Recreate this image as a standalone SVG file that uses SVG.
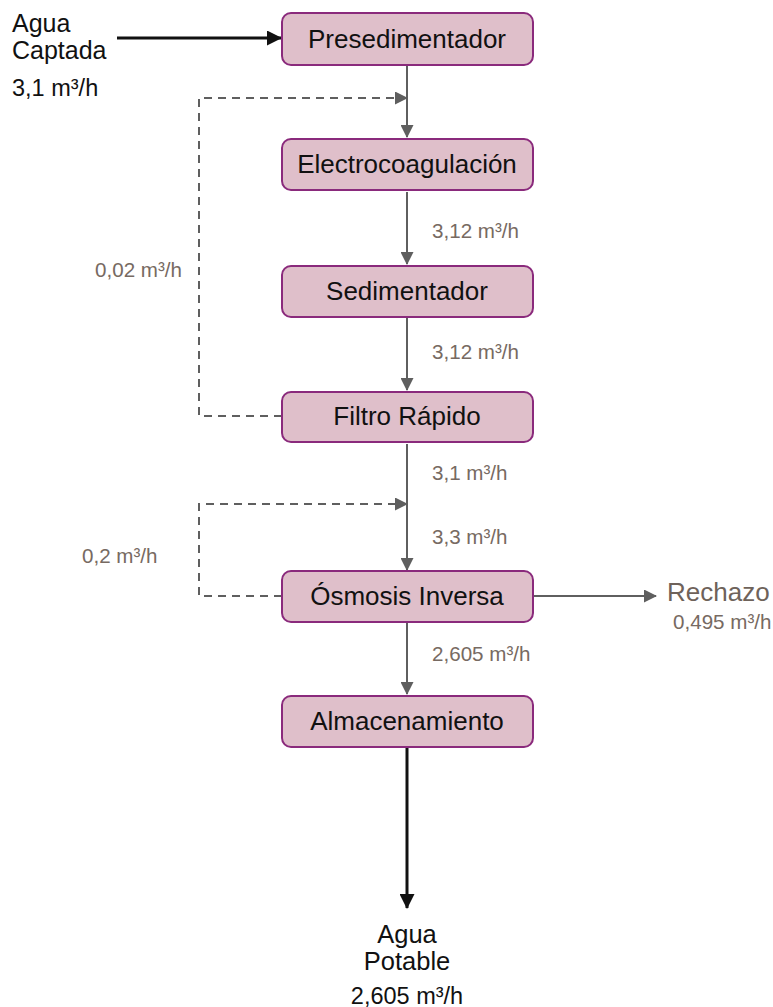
<svg xmlns="http://www.w3.org/2000/svg" width="773" height="1007" viewBox="0 0 773 1007">
<style>
.box{fill:#dfbfca;stroke:#8a2a7c;stroke-width:2}
.bt{font-family:"Liberation Sans",Arial,sans-serif;font-size:26px;fill:#111;text-anchor:middle}
.lbl{font-family:"Liberation Sans",Arial,sans-serif;font-size:20.6px;fill:#776a62}
.blk{font-family:"Liberation Sans",Arial,sans-serif;font-size:25px;fill:#111}
.g{stroke:#5f5f5f;stroke-width:2;fill:none}
.d{stroke:#5f5f5f;stroke-width:2;fill:none;stroke-dasharray:8 6}
.k{stroke:#111;stroke-width:3;fill:none}
</style>
<defs>
<marker id="ak" markerWidth="15" markerHeight="15" refX="14" refY="7.5" orient="auto" markerUnits="userSpaceOnUse" viewBox="0 0 15 15"><path d="M0,0 L15,7.5 L0,15 z" fill="#111"/></marker>
<marker id="agb" markerWidth="13" markerHeight="13" refX="12" refY="6.5" orient="auto" markerUnits="userSpaceOnUse" viewBox="0 0 13 13"><path d="M0,0 L13,6.5 L0,13 z" fill="#5f5f5f"/></marker>
</defs>
<g id="connectors">
<line class="k" x1="117" y1="38" x2="281" y2="38" marker-end="url(#ak)"/>
<line class="g" x1="407" y1="66" x2="407" y2="137" marker-end="url(#agb)"/>
<polyline class="d" points="282,416 199,416 199,98 407,98" marker-end="url(#agb)"/>
<line class="g" x1="407" y1="192" x2="407" y2="264" marker-end="url(#agb)"/>
<line class="g" x1="407" y1="318" x2="407" y2="390" marker-end="url(#agb)"/>
<line class="g" x1="407" y1="444" x2="407" y2="570" marker-end="url(#agb)"/>
<polyline class="d" points="282,596 199,596 199,504 407,504" marker-end="url(#agb)"/>
<line class="g" x1="533" y1="596" x2="656" y2="596" marker-end="url(#agb)"/>
<line class="g" x1="407" y1="623" x2="407" y2="694" marker-end="url(#agb)"/>
<line class="k" x1="407" y1="748" x2="407" y2="908" marker-end="url(#ak)"/>
</g>
<g id="n1"><rect class="box" x="282" y="13" width="251" height="52" rx="9"/><text class="bt" x="407" y="48">Presedimentador</text></g>
<g id="n2"><rect class="box" x="282" y="139" width="251" height="51" rx="9"/><text class="bt" x="407" y="173">Electrocoagulación</text></g>
<g id="n3"><rect class="box" x="282" y="266" width="251" height="51" rx="9"/><text class="bt" x="407" y="300">Sedimentador</text></g>
<g id="n4"><rect class="box" x="282" y="392" width="251" height="50" rx="9"/><text class="bt" x="407" y="425">Filtro Rápido</text></g>
<g id="n5"><rect class="box" x="282" y="571" width="251" height="51" rx="9"/><text class="bt" x="407" y="605">Ósmosis Inversa</text></g>
<g id="n6"><rect class="box" x="282" y="696" width="251" height="51" rx="9"/><text class="bt" x="407" y="730">Almacenamiento</text></g>
<g id="labels">
<text class="blk" x="12" y="32">Agua</text>
<text class="blk" x="12" y="59">Captada</text>
<text class="blk" x="12" y="96" style="font-size:23.5px">3,1 m³/h</text>
<text class="lbl" x="432" y="238">3,12 m³/h</text>
<text class="lbl" x="432" y="359">3,12 m³/h</text>
<text class="lbl" x="432" y="480">3,1 m³/h</text>
<text class="lbl" x="432" y="544">3,3 m³/h</text>
<text class="lbl" x="432" y="661">2,605 m³/h</text>
<text class="lbl" x="95" y="277">0,02 m³/h</text>
<text class="lbl" x="82" y="563">0,2 m³/h</text>
<text class="lbl" x="667" y="601" style="font-size:26px;fill:#6e625a">Rechazo</text>
<text class="lbl" x="673" y="629">0,495 m³/h</text>
<text class="blk" x="407" y="943" text-anchor="middle" style="font-size:25.5px">Agua</text>
<text class="blk" x="407" y="970" text-anchor="middle" style="font-size:25.5px">Potable</text>
<text class="blk" x="407" y="1004" text-anchor="middle" style="font-size:23.5px">2,605 m³/h</text>
</g>
</svg>
